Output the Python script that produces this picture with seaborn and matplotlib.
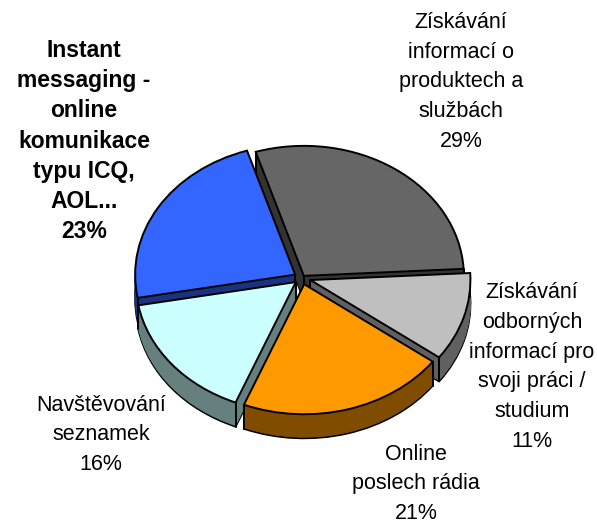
#!/usr/bin/env python3
# -*- coding: utf-8 -*-
"""3D pie chart - co lide dela online"""

from math import cos, sin, radians

import matplotlib
matplotlib.use('Agg')
import matplotlib.pyplot as plt
import seaborn as sns

# data
categories = ['Získávání\ninformací o\nproduktech a\nslužbách',
              'Získávání\nodborných\ninformací pro\nsvoji práci /\nstudium',
              'Online\nposlech rádia',
              'Navštěvování\nseznamek',
              'Instant\nmessaging -\nonline\nkomunikace\ntypu ICQ,\nAOL...']
values = [29, 11, 21, 16, 23]

top_colors = ['#666666', '#BFBFBF', '#FF9900', '#CCFFFF', '#3366FF']
wall_colors = ['#333333', '#606060', '#804C00', '#668080', '#1A3380']

# label centres in px from top left
label_pos = [(461, 82), (532, 367), (416, 484), (101, 435), (84, 141)]
bold = [False, False, False, False, True]

W, H = 597, 523
CX, CY = 302, 278   # pie centre in px
RX, RY = 160, 130   # ellipse radii in px
DEPTH = 24          # px
START = 107.5

explode = [0.02, 0.055, 0.05, 0.05, 0.05]
draw_order = [0, 4, 1, 3, 2]  # back slices first

sns.set_theme(style='white')
plt.rcParams['font.family'] = ['Liberation Sans', 'DejaVu Sans']

fig = plt.figure(figsize=(W / 100, H / 100), dpi=100, facecolor='white')
ax = fig.add_axes([0, 0, 1, 1])

rank = {s: i for i, s in enumerate(draw_order)}
lw = 1.4

# extruded walls, deepest layer first
for d in range(DEPTH, 0, -1):
    wedges, _ = ax.pie(values, startangle=START, counterclock=False, explode=explode,
                       colors=wall_colors, center=(0, -d / RY))
    for i, w in enumerate(wedges):
        w.set_zorder(10 * rank[i] + 1)
        if d == DEPTH:
            w.set_edgecolor('black')
            w.set_linewidth(lw)
            w.set_zorder(10 * rank[i])
        else:
            w.set_edgecolor(wall_colors[i])
            w.set_linewidth(0.5)

# top faces
wedges, _ = ax.pie(values, startangle=START, counterclock=False, explode=explode,
                   colors=top_colors, wedgeprops={'edgecolor': 'black', 'linewidth': lw})
for i, w in enumerate(wedges):
    w.set_zorder(10 * rank[i] + 3)
    x0, y0 = w.center
    # vertical wall edges at the wedge corners
    for th in (w.theta1, w.theta2):
        x, y = x0 + w.r * cos(radians(th)), y0 + w.r * sin(radians(th))
        ax.plot([x, x], [y, y - DEPTH / RY], color='black', lw=lw, zorder=10 * rank[i] + 2)
    ax.plot([x0, x0], [y0, y0 - DEPTH / RY], color='black', lw=lw, zorder=10 * rank[i] + 2)

ax.set_aspect('auto')
ax.set_xlim(-CX / RX, (W - CX) / RX)
ax.set_ylim((CY - H) / RY, CY / RY)
ax.axis('off')

for cat, val, (x, y), b in zip(categories, values, label_pos, bold):
    fig.text(x / W, 1 - y / H, f'{cat}\n{val}%', ha='center', va='center', ma='center',
             fontsize=16.5 if b else 15.5, fontweight='bold' if b else 'normal',
             linespacing=1.39 if b else 1.56, color='black')

fig.savefig('out.png', dpi=100, facecolor='white')
